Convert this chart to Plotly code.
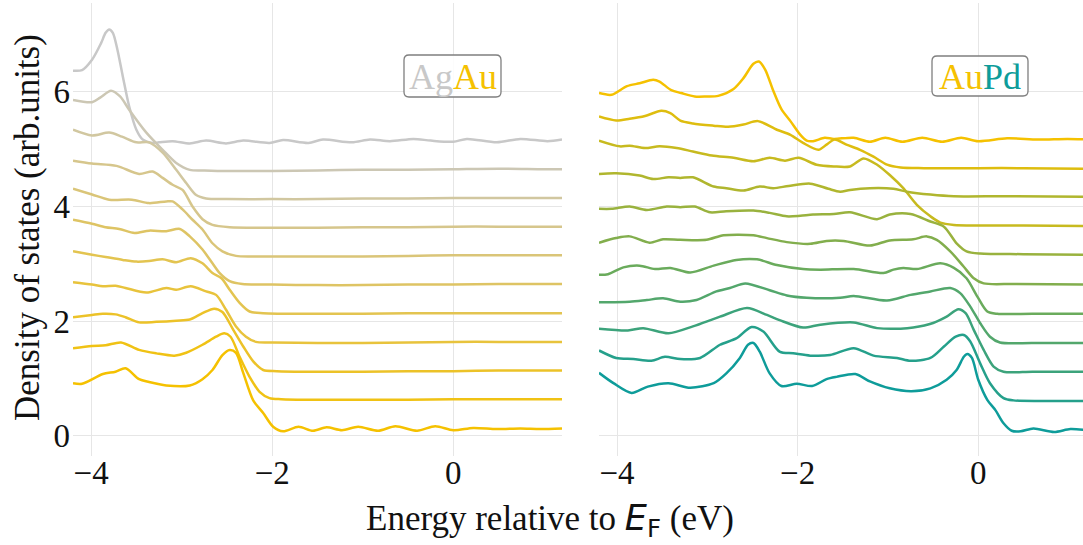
import plotly.graph_objects as go

# ---------------------------------------------------------------------------
# Stacked densities of states (arb. units, already offset) vs. E - E_F (eV)
# Left panel: AgAu series, pure Ag on top -> pure Au at the bottom
# ---------------------------------------------------------------------------
agau_e0 = [-4.2, -4.10, -3.99, -3.89, -3.84, -3.80, -3.76, -3.71, -3.65, -3.58, -3.50, -3.43, -3.32, -3.25,
           -3.10, -2.91, -2.73, -2.51, -2.32, -2.03, -1.88, -1.60, -1.44, -1.12, -0.92, -0.70, -0.44, -0.25,
           0.00, 0.15, 0.48, 0.74, 1.04, 1.2]
agau_d0 = [6.37, 6.38, 6.56, 6.85, 7.03, 7.09, 7.03, 6.74, 6.27, 5.75, 5.34, 5.17, 5.11, 5.12,
           5.14, 5.10, 5.15, 5.10, 5.15, 5.11, 5.16, 5.11, 5.17, 5.12, 5.17, 5.14, 5.18, 5.15,
           5.13, 5.18, 5.12, 5.18, 5.14, 5.17]

agau_e1 = [-4.2, -3.99, -3.90, -3.78, -3.68, -3.58, -3.39, -3.21, -3.06, -2.91, -2.75, -2.5, -2.0, -1.5,
           -1.0, -0.5, 0.0, 0.5, 1.0, 1.2]
agau_d1 = [5.86, 5.82, 5.90, 6.02, 5.92, 5.69, 5.29, 4.99, 4.76, 4.64, 4.63, 4.62, 4.62, 4.63,
           4.64, 4.64, 4.65, 4.66, 4.65, 4.65]

agau_e2 = [-4.2, -3.99, -3.80, -3.66, -3.50, -3.36, -3.21, -3.06, -2.95, -2.84, -2.73, -2.5, -2.0, -1.5,
           -1.0, -0.5, 0.0, 0.5, 1.0, 1.2]
agau_d2 = [5.34, 5.24, 5.29, 5.22, 5.12, 5.12, 4.94, 4.64, 4.41, 4.20, 4.14, 4.13, 4.13, 4.13,
           4.14, 4.14, 4.15, 4.15, 4.15, 4.15]

agau_e3 = [-4.2, -3.99, -3.72, -3.47, -3.32, -3.21, -3.10, -2.99, -2.88, -2.77, -2.66, -2.47, -2.0, -1.5,
           -1.0, -0.5, 0.0, 0.5, 1.0, 1.2]
agau_d3 = [4.80, 4.75, 4.71, 4.57, 4.61, 4.50, 4.38, 4.29, 4.00, 3.78, 3.68, 3.64, 3.63, 3.63,
           3.64, 3.64, 3.65, 3.65, 3.65, 3.65]

agau_e4 = [-4.2, -3.99, -3.80, -3.55, -3.36, -3.17, -3.10, -2.99, -2.88, -2.77, -2.66, -2.55, -2.40, -2.2,
           -1.5, -1.0, -0.5, 0.0, 0.5, 1.0, 1.2]
agau_d4 = [4.31, 4.21, 4.12, 4.12, 4.06, 4.09, 4.09, 3.95, 3.77, 3.60, 3.36, 3.22, 3.14, 3.13,
           3.13, 3.13, 3.14, 3.15, 3.15, 3.15, 3.15]

agau_e5 = [-4.2, -3.99, -3.84, -3.69, -3.52, -3.36, -3.17, -3.02, -2.91, -2.77, -2.66, -2.58, -2.47, -2.33,
           -2.0, -1.5, -1.0, -0.5, 0.0, 0.5, 1.0, 1.2]
agau_d5 = [3.77, 3.70, 3.64, 3.61, 3.54, 3.58, 3.57, 3.61, 3.48, 3.25, 3.01, 2.84, 2.70, 2.65,
           2.64, 2.63, 2.63, 2.64, 2.64, 2.65, 2.65, 2.65]

agau_e6 = [-4.2, -3.99, -3.84, -3.65, -3.50, -3.36, -3.21, -3.06, -2.90, -2.77, -2.66, -2.56, -2.47, -2.36,
           -2.25, -2.1, -1.5, -1.0, -0.5, 0.0, 0.5, 1.0, 1.2]
agau_d6 = [3.22, 3.16, 3.12, 3.07, 3.04, 3.05, 3.08, 3.03, 3.10, 3.01, 2.84, 2.75, 2.55, 2.32,
           2.17, 2.14, 2.13, 2.13, 2.14, 2.14, 2.14, 2.14, 2.14]

agau_e7 = [-4.2, -3.99, -3.87, -3.73, -3.62, -3.39, -3.17, -3.06, -2.90, -2.73, -2.62, -2.51, -2.40, -2.29,
           -2.18, -2.0, -1.5, -1.0, -0.5, 0.0, 0.5, 1.0, 1.2]
agau_d7 = [2.68, 2.64, 2.61, 2.62, 2.58, 2.50, 2.58, 2.55, 2.61, 2.52, 2.46, 2.20, 1.91, 1.73,
           1.64, 1.63, 1.62, 1.62, 1.63, 1.64, 1.64, 1.64, 1.64]

agau_e8 = [-4.2, -3.99, -3.87, -3.73, -3.62, -3.47, -3.28, -3.06, -2.91, -2.77, -2.64, -2.55, -2.43, -2.32,
           -2.21, -2.10, -1.95, -1.5, -1.0, -0.5, 0.0, 0.5, 1.0, 1.2]
agau_d8 = [2.07, 2.11, 2.13, 2.12, 2.07, 1.98, 1.99, 2.01, 2.03, 2.14, 2.22, 2.16, 1.85, 1.56,
           1.30, 1.15, 1.13, 1.12, 1.12, 1.13, 1.13, 1.14, 1.14, 1.14]

agau_e9 = [-4.2, -3.99, -3.84, -3.67, -3.47, -3.28, -3.08, -2.95, -2.77, -2.62, -2.53, -2.46, -2.36, -2.25,
           -2.14, -2.03, -1.9, -1.5, -1.0, -0.5, 0.0, 0.5, 1.0, 1.2]
agau_d9 = [1.53, 1.57, 1.58, 1.63, 1.50, 1.44, 1.40, 1.45, 1.59, 1.73, 1.79, 1.73, 1.38, 1.03,
           0.77, 0.66, 0.64, 0.63, 0.63, 0.63, 0.64, 0.64, 0.64, 0.64]

agau_e10 = [-4.2, -4.10, -3.87, -3.73, -3.62, -3.47, -3.36, -3.17, -2.91, -2.77, -2.66, -2.55, -2.47, -2.40,
            -2.32, -2.21, -2.10, -1.99, -1.88, -1.71, -1.55, -1.40, -1.23, -1.05, -0.83, -0.64, -0.40, -0.20,
            0.00, 0.22, 0.48, 0.74, 0.96, 1.2]
agau_d10 = [0.92, 0.91, 1.08, 1.12, 1.18, 0.99, 0.94, 0.88, 0.88, 0.99, 1.15, 1.41, 1.50, 1.45,
            1.10, 0.62, 0.40, 0.16, 0.08, 0.16, 0.09, 0.15, 0.10, 0.16, 0.09, 0.17, 0.09, 0.17,
            0.10, 0.14, 0.12, 0.13, 0.12, 0.13]

# ---------------------------------------------------------------------------
# Right panel: AuPd series, pure Au on top -> pure Pd at the bottom
# ---------------------------------------------------------------------------
aupd_e0 = [-4.2, -4.06, -3.89, -3.75, -3.60, -3.53, -3.40, -3.29, -3.14, -3.01, -2.88, -2.71, -2.60, -2.49,
           -2.43, -2.36, -2.27, -2.18, -2.08, -1.97, -1.90, -1.83, -1.70, -1.60, -1.38, -1.20, -1.03, -0.84,
           -0.62, -0.40, -0.19, 0.00, 0.32, 0.66, 0.99, 1.2]
aupd_d0 = [5.98, 5.95, 6.10, 6.15, 6.21, 6.18, 6.03, 5.98, 5.92, 5.92, 5.93, 6.05, 6.24, 6.49,
           6.53, 6.39, 6.02, 5.70, 5.49, 5.25, 5.15, 5.14, 5.20, 5.18, 5.20, 5.13, 5.20, 5.13,
           5.20, 5.13, 5.20, 5.14, 5.19, 5.17, 5.18, 5.17]

aupd_e1 = [-4.2, -4.01, -3.86, -3.69, -3.51, -3.41, -3.30, -3.16, -2.93, -2.77, -2.60, -2.44, -2.23, -2.08,
           -1.94, -1.77, -1.68, -1.59, -1.46, -1.31, -1.16, -1.01, -0.86, -0.6, 0.0, 0.5, 1.2]
aupd_d1 = [5.57, 5.50, 5.53, 5.58, 5.67, 5.63, 5.50, 5.45, 5.41, 5.39, 5.43, 5.49, 5.34, 5.25,
           5.11, 4.99, 5.08, 5.17, 5.08, 4.99, 4.87, 4.73, 4.68, 4.67, 4.67, 4.67, 4.66]

aupd_e2 = [-4.2, -3.97, -3.86, -3.69, -3.53, -3.34, -3.16, -2.95, -2.71, -2.49, -2.31, -2.14, -1.99, -1.79,
           -1.60, -1.42, -1.27, -1.12, -0.98, -0.83, -0.68, -0.53, -0.42, -0.27, 0.0, 0.5, 1.2]
aupd_d2 = [5.15, 5.05, 5.06, 5.02, 5.05, 5.02, 4.96, 4.89, 4.85, 4.79, 4.85, 4.80, 4.85, 4.73,
           4.70, 4.70, 4.84, 4.73, 4.55, 4.32, 4.03, 3.83, 3.72, 3.68, 3.67, 3.67, 3.66]

aupd_e3 = [-4.2, -4.01, -3.75, -3.60, -3.43, -3.30, -3.16, -2.93, -2.79, -2.60, -2.42, -2.27, -2.10, -1.86,
           -1.66, -1.53, -1.42, -1.20, -0.94, -0.79, -0.53, -0.27, 0.3, 1.2]
aupd_d3 = [4.57, 4.58, 4.54, 4.48, 4.51, 4.50, 4.51, 4.35, 4.32, 4.28, 4.35, 4.32, 4.36, 4.40,
           4.31, 4.26, 4.29, 4.32, 4.31, 4.26, 4.21, 4.18, 4.18, 4.17]

aupd_e4 = [-4.2, -4.06, -3.86, -3.67, -3.45, -3.30, -3.14, -2.97, -2.79, -2.49, -2.31, -2.12, -1.97, -1.83,
           -1.60, -1.42, -1.12, -0.98, -0.75, -0.53, -0.38, -0.24, -0.13, 0.02, 0.5, 1.2]
aupd_d4 = [3.96, 3.96, 4.00, 3.94, 4.00, 3.99, 4.00, 3.90, 3.92, 3.93, 3.89, 3.83, 3.84, 3.86,
           3.87, 3.90, 3.78, 3.86, 3.87, 3.74, 3.65, 3.36, 3.22, 3.18, 3.17, 3.16]

aupd_e5 = [-4.2, -4.01, -3.86, -3.64, -3.49, -3.30, -3.01, -2.82, -2.49, -2.34, -2.12, -1.86, -1.68, -1.49,
           -1.20, -0.98, -0.72, -0.57, -0.46, -0.31, -0.16, -0.05, 0.06, 0.4, 1.2]
aupd_d5 = [3.37, 3.45, 3.48, 3.37, 3.43, 3.42, 3.42, 3.50, 3.50, 3.45, 3.38, 3.35, 3.40, 3.40,
           3.32, 3.41, 3.43, 3.48, 3.42, 3.22, 2.95, 2.75, 2.66, 2.65, 2.64]

aupd_e6 = [-4.2, -4.10, -3.93, -3.75, -3.58, -3.41, -3.19, -2.93, -2.68, -2.45, -2.23, -1.94, -1.75, -1.38,
           -1.05, -0.94, -0.83, -0.68, -0.42, -0.27, -0.13, -0.01, 0.10, 0.21, 0.6, 1.2]
aupd_d6 = [2.81, 2.82, 2.94, 2.97, 2.91, 2.93, 2.85, 2.97, 3.07, 3.08, 2.98, 2.91, 2.90, 2.91,
           2.84, 2.90, 2.93, 2.91, 3.01, 2.93, 2.75, 2.43, 2.17, 2.13, 2.13, 2.13]

aupd_e7 = [-4.2, -3.86, -3.67, -3.49, -3.30, -3.12, -2.90, -2.75, -2.58, -2.31, -2.12, -1.90, -1.53, -1.38,
           -1.01, -0.75, -0.53, -0.31, -0.20, -0.09, 0.02, 0.13, 0.24, 0.6, 1.2]
aupd_d7 = [2.33, 2.34, 2.37, 2.40, 2.34, 2.37, 2.52, 2.58, 2.66, 2.54, 2.45, 2.41, 2.41, 2.44,
           2.36, 2.46, 2.52, 2.58, 2.49, 2.26, 1.97, 1.73, 1.63, 1.62, 1.62]

aupd_e8 = [-4.2, -3.88, -3.71, -3.43, -3.16, -2.86, -2.56, -2.34, -2.20, -1.94, -1.75, -1.38, -1.12, -0.86,
           -0.72, -0.50, -0.35, -0.22, -0.14, -0.05, 0.06, 0.17, 0.28, 0.6, 1.2]
aupd_d8 = [1.87, 1.84, 1.88, 1.79, 1.91, 2.08, 2.23, 2.11, 2.02, 1.89, 1.94, 1.98, 1.88, 1.87,
           1.89, 1.97, 2.08, 2.21, 2.14, 1.85, 1.50, 1.21, 1.12, 1.12, 1.12]

aupd_e9 = [-4.2, -4.01, -3.82, -3.62, -3.47, -3.30, -3.08, -2.86, -2.68, -2.51, -2.38, -2.20, -2.05, -1.86,
           -1.64, -1.38, -1.16, -0.90, -0.75, -0.53, -0.38, -0.25, -0.16, -0.09, 0.02, 0.13, 0.28, 0.39,
           0.7, 1.2]
aupd_d9 = [1.49, 1.36, 1.34, 1.31, 1.38, 1.34, 1.36, 1.59, 1.70, 1.90, 1.82, 1.47, 1.44, 1.40,
           1.41, 1.53, 1.40, 1.36, 1.31, 1.36, 1.56, 1.73, 1.76, 1.65, 1.27, 0.92, 0.66, 0.62,
           0.61, 0.61]

aupd_e10 = [-4.2, -4.04, -3.84, -3.66, -3.43, -3.19, -2.93, -2.79, -2.64, -2.55, -2.49, -2.42, -2.31, -2.18,
            -2.01, -1.84, -1.68, -1.57, -1.36, -1.20, -0.98, -0.74, -0.53, -0.35, -0.24, -0.16, -0.12, -0.07,
            0.00, 0.10, 0.19, 0.28, 0.37, 0.47, 0.61, 0.84, 1.02, 1.2]
aupd_d10 = [1.10, 0.92, 0.75, 0.86, 0.92, 0.84, 0.92, 1.09, 1.36, 1.59, 1.62, 1.47, 1.09, 0.87,
            0.91, 0.87, 0.99, 1.03, 1.08, 0.95, 0.83, 0.78, 0.83, 0.98, 1.15, 1.38, 1.43, 1.36,
            0.98, 0.63, 0.45, 0.22, 0.09, 0.08, 0.13, 0.07, 0.12, 0.10]

agau_energy = [agau_e0, agau_e1, agau_e2, agau_e3, agau_e4, agau_e5, agau_e6, agau_e7, agau_e8, agau_e9, agau_e10]
agau_dos = [agau_d0, agau_d1, agau_d2, agau_d3, agau_d4, agau_d5, agau_d6, agau_d7, agau_d8, agau_d9, agau_d10]
aupd_energy = [aupd_e0, aupd_e1, aupd_e2, aupd_e3, aupd_e4, aupd_e5, aupd_e6, aupd_e7, aupd_e8, aupd_e9, aupd_e10]
aupd_dos = [aupd_d0, aupd_d1, aupd_d2, aupd_d3, aupd_d4, aupd_d5, aupd_d6, aupd_d7, aupd_d8, aupd_d9, aupd_d10]

y_ticks = [0, 2, 4, 6]
x_ticks = [-4, -2, 0]

# element colours
AG = (200, 200, 200)
AU = (245, 193, 0)
PD = (14, 156, 154)

FONT = "Liberation Serif"
W, H = 1083, 545
M_L, M_R, M_T, M_B = 73, 0, 3, 89
PW, PH = W - M_L - M_R, H - M_T - M_B


def mix(c1, c2, t):
    r, g, b = (round(a + (b_ - a) * t) for a, b_ in zip(c1, c2))
    return f"rgb({r},{g},{b})"


def hexc(c):
    return "#%02x%02x%02x" % c


fig = go.Figure()

n = len(agau_dos)
for i in range(n):
    fig.add_trace(go.Scatter(
        x=agau_energy[i], y=agau_dos[i], mode="lines",
        line=dict(color=mix(AG, AU, i / (n - 1)), width=2.5, shape="spline", smoothing=0.8),
        xaxis="x", yaxis="y", showlegend=False, hoverinfo="skip"))

n = len(aupd_dos)
for i in range(n):
    fig.add_trace(go.Scatter(
        x=aupd_energy[i], y=aupd_dos[i], mode="lines",
        line=dict(color=mix(AU, PD, i / (n - 1)), width=2.5, shape="spline", smoothing=0.8),
        xaxis="x2", yaxis="y2", showlegend=False, hoverinfo="skip"))

grid = "#e6e6e6"
tickfont = dict(family=FONT, size=33, color="#111111")
left_dom = [0, 489 / PW]
right_dom = [(599 - M_L) / PW, 1.0]

common_x = dict(showline=False, zeroline=False, ticks="", gridcolor=grid, gridwidth=1.3,
                tickvals=x_ticks, tickfont=tickfont, ticklabelstandoff=-6)
common_y = dict(showline=False, zeroline=False, ticks="", gridcolor=grid, gridwidth=1.3,
                tickvals=y_ticks, range=[-0.35, 7.55])

fig.update_layout(
    width=W, height=H,
    margin=dict(l=M_L, r=M_R, t=M_T, b=M_B, pad=0),
    paper_bgcolor="white", plot_bgcolor="white",
    xaxis=dict(domain=left_dom, range=[-4.2, 1.2], anchor="y", **common_x),
    xaxis2=dict(domain=right_dom, range=[-4.2, 1.16], anchor="y2", **common_x),
    yaxis=dict(domain=[0, 1], anchor="x", tickfont=tickfont, showticklabels=True,
               ticklabelstandoff=2, **common_y),
    yaxis2=dict(domain=[0, 1], anchor="x2", matches="y", showticklabels=False, **common_y),
)


def px_to_paper(px, py):
    return (px - M_L) / PW, (H - M_B - py) / PH


def rounded_box(x0, y0, x1, y1, r=5):
    # corners in pixels -> SVG path in paper coordinates
    def p(x, y):
        a, b = px_to_paper(x, y)
        return f"{a:.5f},{b:.5f}"
    return (f"M{p(x0 + r, y0)} L{p(x1 - r, y0)} Q{p(x1, y0)} {p(x1, y0 + r)} "
            f"L{p(x1, y1 - r)} Q{p(x1, y1)} {p(x1 - r, y1)} L{p(x0 + r, y1)} "
            f"Q{p(x0, y1)} {p(x0, y1 - r)} L{p(x0, y0 + r)} Q{p(x0, y0)} {p(x0 + r, y0)} Z")


boxes = [
    ((404, 55, 501, 97), [("Ag", AG), ("Au", AU)]),
    ((932, 56, 1028, 96), [("Au", AU), ("Pd", PD)]),
]
for (x0, y0, x1, y1), parts in boxes:
    fig.add_shape(type="path", path=rounded_box(x0, y0, x1, y1), xref="paper", yref="paper",
                  line=dict(color="#7f7f7f", width=1.3), fillcolor="rgba(255,255,255,0.85)", layer="above")
    cx, cy = px_to_paper((x0 + x1) / 2, (y0 + y1) / 2 + 1)
    text = "".join(f"<span style='color:{hexc(c)}'>{s}</span>" for s, c in parts)
    fig.add_annotation(x=cx, y=cy, xref="paper", yref="paper", text=text, showarrow=False,
                       xanchor="center", yanchor="middle", font=dict(family=FONT, size=36))

# axis titles
tx, ty = px_to_paper(550, 520)
fig.add_annotation(
    x=tx, y=ty, xref="paper", yref="paper", showarrow=False, xanchor="center", yanchor="middle",
    text="Energy relative to <span style='font-family:DejaVu Sans'><i>E</i><sub>F</sub></span> (eV)",
    font=dict(family=FONT, size=35, color="#111111"))
tx, ty = px_to_paper(27, 228)
fig.add_annotation(
    x=tx, y=ty, xref="paper", yref="paper", showarrow=False, xanchor="center", yanchor="middle",
    textangle=-90, text="Density of states (arb.units)",
    font=dict(family=FONT, size=35, color="#111111"))

fig.write_html("out.html")
